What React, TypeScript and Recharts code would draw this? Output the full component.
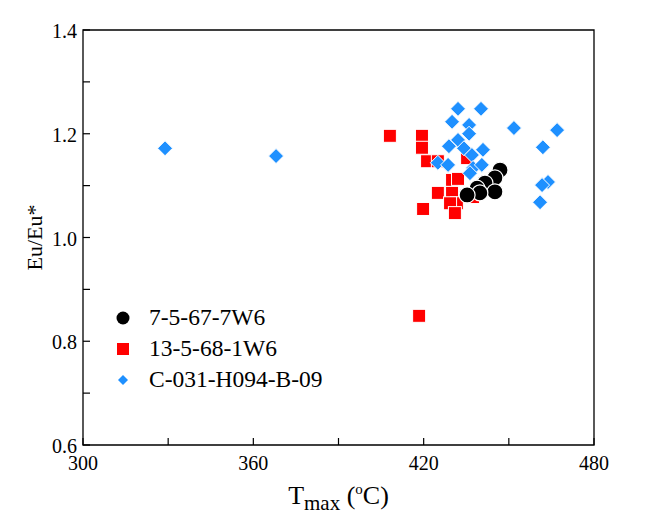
import React from 'react';
import { ScatterChart, Scatter, XAxis, YAxis, ReferenceArea, Legend, Label } from 'recharts';

// Series: 7-5-67-7W6 (black circles)
const blackTmax = [446.9, 445.1, 441.6, 445.1, 438.8, 439.8, 435.3];
const blackEu = [1.130, 1.115, 1.105, 1.088, 1.095, 1.086, 1.082];

// Series: 13-5-68-1W6 (red squares)
const redTmax = [408.1, 419.4, 419.4, 421.2, 425.0, 435.3, 430.0, 432.1, 425.0, 430.0, 431.7, 429.3, 431.0, 419.8, 437.4, 418.4];
const redEu = [1.196, 1.196, 1.173, 1.147, 1.147, 1.153, 1.111, 1.113, 1.086, 1.086, 1.066, 1.066, 1.047, 1.055, 1.078, 0.849];

// Series: C-031-H094-B-09 (blue diamonds)
const blueTmax = [328.9, 368.0, 432.1, 440.2, 451.8, 467.0, 430.0, 436.0, 436.0, 432.1, 428.9, 434.2, 440.9, 462.0, 463.8, 461.7, 461.0, 437.0, 425.0, 428.6, 437.4, 440.5, 436.3];
const blueEu = [1.172, 1.157, 1.248, 1.248, 1.211, 1.207, 1.223, 1.217, 1.200, 1.188, 1.176, 1.172, 1.169, 1.174, 1.107, 1.101, 1.068, 1.159, 1.144, 1.140, 1.134, 1.140, 1.124];

const seriesNames = ['7-5-67-7W6', '13-5-68-1W6', 'C-031-H094-B-09'];
const seriesColors = ['#000000', '#ff0000', '#1e90ff'];

const xTicks = [300, 330, 360, 390, 420, 450, 480];
const xLabelTicks = [300, 360, 420, 480];
const yTicks = [0.6, 0.7, 0.8, 0.9, 1.0, 1.1, 1.2, 1.3, 1.4];

const zip = (xs: number[], ys: number[]) => xs.map((x, i) => ({ x, y: ys[i] }));
const blackData = zip(blackTmax, blackEu);
const redData = zip(redTmax, redEu);
const blueData = zip(blueTmax, blueEu);

const FONT = '"Liberation Serif", "Times New Roman", serif';
const TM = 6;

const CircleShape = (p: any) => (
  <circle cx={p.cx} cy={p.cy} r={8} fill={seriesColors[0]} stroke="#fff" strokeWidth={1.2} />
);
const SquareShape = (p: any) => (
  <rect x={p.cx - 6.5} y={p.cy - 6.5} width={13} height={13} fill={seriesColors[1]} stroke="#fff" strokeWidth={1} />
);
const DiamondShape = (p: any) => (
  <path
    d={`M${p.cx},${p.cy - 7.5}L${p.cx + 7.5},${p.cy}L${p.cx},${p.cy + 7.5}L${p.cx - 7.5},${p.cy}Z`}
    fill={seriesColors[2]}
    stroke="#fff"
    strokeWidth={1}
  />
);

const YTick = (props: any) => {
  const { x, y, payload } = props;
  const v = payload.value as number;
  const major = Math.round(v * 10) % 2 === 0;
  const ax = x + TM;
  return (
    <g>
      <line x1={ax} x2={ax + 7} y1={y} y2={y} stroke="#000" strokeWidth={1.2} />
      {major && (
        <text x={x} y={y + 8} textAnchor="end" fontFamily={FONT} fontSize={20} fill="#000">
          {v.toFixed(1)}
        </text>
      )}
    </g>
  );
};

const XTick = (props: any) => {
  const { x, y, payload } = props;
  const v = payload.value as number;
  const major = xLabelTicks.includes(v);
  const ay = y - TM;
  return (
    <g>
      <line x1={x} x2={x} y1={ay} y2={ay - 7} stroke="#000" strokeWidth={1.2} />
      {major && (
        <text x={x} y={ay + 25} textAnchor="middle" fontFamily={FONT} fontSize={20} fill="#000">
          {v}
        </text>
      )}
    </g>
  );
};

const XTitle = (props: any) => {
  const vb = props.viewBox;
  const cx = vb.x + vb.width / 2;
  return (
    <text x={cx} y={vb.y + 59} textAnchor="middle" fontFamily={FONT} fontSize={26} fill="#000">
      <tspan>T</tspan>
      <tspan fontSize={21} dy={6}>max</tspan>
      <tspan dy={-6}> (</tspan>
      <tspan fontSize={15} dy={-10}>o</tspan>
      <tspan dy={10}>C)</tspan>
    </text>
  );
};

const YTitle = (props: any) => {
  const vb = props.viewBox;
  const cy = vb.y + vb.height / 2;
  const tx = 42;
  return (
    <text
      x={tx}
      y={cy}
      transform={`rotate(-90 ${tx} ${cy})`}
      textAnchor="middle"
      fontFamily={FONT}
      fontSize={22}
      fill="#000"
    >
      Eu/Eu*
    </text>
  );
};

const LegendContent = () => {
  const icons = [
    <circle cx={13} cy={13} r={6.5} fill={seriesColors[0]} />,
    <rect x={7} y={7} width={12} height={12} fill={seriesColors[1]} />,
    <path d="M13,8L18,13L13,18L8,13Z" fill={seriesColors[2]} />,
  ];
  return (
    <div style={{ fontFamily: FONT, fontSize: 23.5, color: '#000' }}>
      {seriesNames.map((n, i) => (
        <div key={n} style={{ display: 'flex', alignItems: 'center', height: 31 }}>
          <svg width={26} height={26} style={{ display: 'block' }}>{icons[i]}</svg>
          <span style={{ marginLeft: 13, lineHeight: '31px' }}>{n}</span>
        </div>
      ))}
    </div>
  );
};

export default function App() {
  return (
    <div style={{ position: 'absolute', left: 0, top: 0, width: 648, height: 519, background: '#fff' }}>
      <ScatterChart width={648} height={519} margin={{ top: 30, right: 54, bottom: 0, left: 0 }}>
        <XAxis
          type="number"
          dataKey="x"
          domain={[300, 480]}
          ticks={xTicks}
          interval={0}
          height={74}
          tickSize={0}
          tickMargin={TM}
          tick={<XTick />}
          axisLine={false}
          allowDataOverflow
        >
          <Label content={<XTitle />} />
        </XAxis>
        <YAxis
          type="number"
          dataKey="y"
          domain={[0.6, 1.4]}
          ticks={yTicks}
          interval={0}
          width={83}
          tickSize={0}
          tickMargin={TM}
          tick={<YTick />}
          axisLine={false}
          allowDataOverflow
        >
          <Label content={<YTitle />} />
        </YAxis>
        <ReferenceArea x1={300} x2={480} y1={0.6} y2={1.4} fill="none" stroke="#000" strokeWidth={1.3} ifOverflow="visible" />
        <Scatter name={seriesNames[1]} data={redData} shape={<SquareShape />} isAnimationActive={false} />
        <Scatter name={seriesNames[2]} data={blueData} shape={<DiamondShape />} isAnimationActive={false} />
        <Scatter name={seriesNames[0]} data={blackData} shape={<CircleShape />} isAnimationActive={false} />
        <Legend
          layout="vertical"
          align="center"
          verticalAlign="middle"
          content={<LegendContent />}
          wrapperStyle={{ left: 110, top: 302, width: 260, height: 95 }}
        />
      </ScatterChart>
    </div>
  );
}
